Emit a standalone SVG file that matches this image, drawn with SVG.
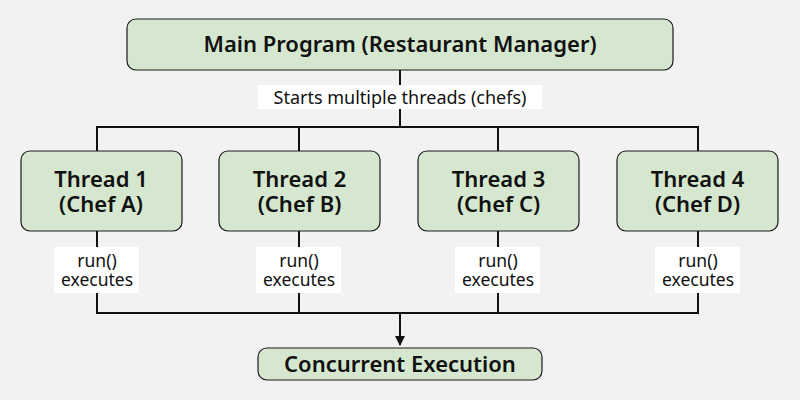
<svg xmlns="http://www.w3.org/2000/svg" width="800" height="400" viewBox="0 0 800 400">
<style>
.box{fill:#d5e8cf;stroke:#1a1a1a;stroke-width:1.2}
.t{font-family:"Noto Sans","Open Sans",sans-serif;font-weight:600;font-size:22px;fill:#111;text-anchor:middle}
.l{font-family:"Noto Sans","Open Sans",sans-serif;font-size:17.5px;fill:#111;text-anchor:middle}
.s{font-family:"Noto Sans","Open Sans",sans-serif;font-size:18px;fill:#111;text-anchor:middle}
.lb{fill:#ffffff}
.c{fill:none;stroke:#111;stroke-width:2}
</style>
<defs>
<marker id="ah" markerWidth="10" markerHeight="10" refX="9" refY="5" orient="auto" markerUnits="userSpaceOnUse">
<path d="M0,0 L10,5 L0,10 Z" fill="#111"/>
</marker>
</defs>
<rect width="800" height="400" fill="#f2f2f2"/>
<g id="connectors">
<path class="c" d="M400,70 V127 M97,151 V127 H698 V151 M299,127 V151 M498,127 V151"/>
<path class="c" d="M97,231 V313 H698 V231 M299,231 V313 M498,231 V313"/>
<path class="c" d="M400,313 V345" marker-end="url(#ah)"/>
<rect class="lb" x="258" y="85" width="284" height="24"/>
<text class="s" x="400" y="104">Starts multiple threads (chefs)</text>
<rect class="lb" x="54" y="247" width="85" height="46"/>
<text class="l" x="97" y="267">run()</text>
<text class="l" x="97" y="286">executes</text>
<rect class="lb" x="256" y="247" width="85" height="46"/>
<text class="l" x="299" y="267">run()</text>
<text class="l" x="299" y="286">executes</text>
<rect class="lb" x="455" y="247" width="85" height="46"/>
<text class="l" x="498" y="267">run()</text>
<text class="l" x="498" y="286">executes</text>
<rect class="lb" x="655" y="247" width="85" height="46"/>
<text class="l" x="698" y="267">run()</text>
<text class="l" x="698" y="286">executes</text>
</g>
<g id="main">
<rect class="box" x="127" y="19" width="546" height="51" rx="9"/>
<text class="t" x="400" y="52">Main Program (Restaurant Manager)</text>
</g>
<g id="thread1">
<rect class="box" x="21" y="151" width="161" height="80" rx="9"/>
<text class="t" x="101" y="187">Thread 1</text>
<text class="t" x="101" y="212">(Chef A)</text>
</g>
<g id="thread2">
<rect class="box" x="219" y="151" width="161" height="80" rx="9"/>
<text class="t" x="299.5" y="187">Thread 2</text>
<text class="t" x="299.5" y="212">(Chef B)</text>
</g>
<g id="thread3">
<rect class="box" x="418" y="151" width="161" height="80" rx="9"/>
<text class="t" x="498.5" y="187">Thread 3</text>
<text class="t" x="498.5" y="212">(Chef C)</text>
</g>
<g id="thread4">
<rect class="box" x="617" y="151" width="161" height="80" rx="9"/>
<text class="t" x="697.5" y="187">Thread 4</text>
<text class="t" x="697.5" y="212">(Chef D)</text>
</g>
<g id="concurrent">
<rect class="box" x="258" y="348" width="284" height="32" rx="9"/>
<text class="t" x="400" y="372">Concurrent Execution</text>
</g>
</svg>
